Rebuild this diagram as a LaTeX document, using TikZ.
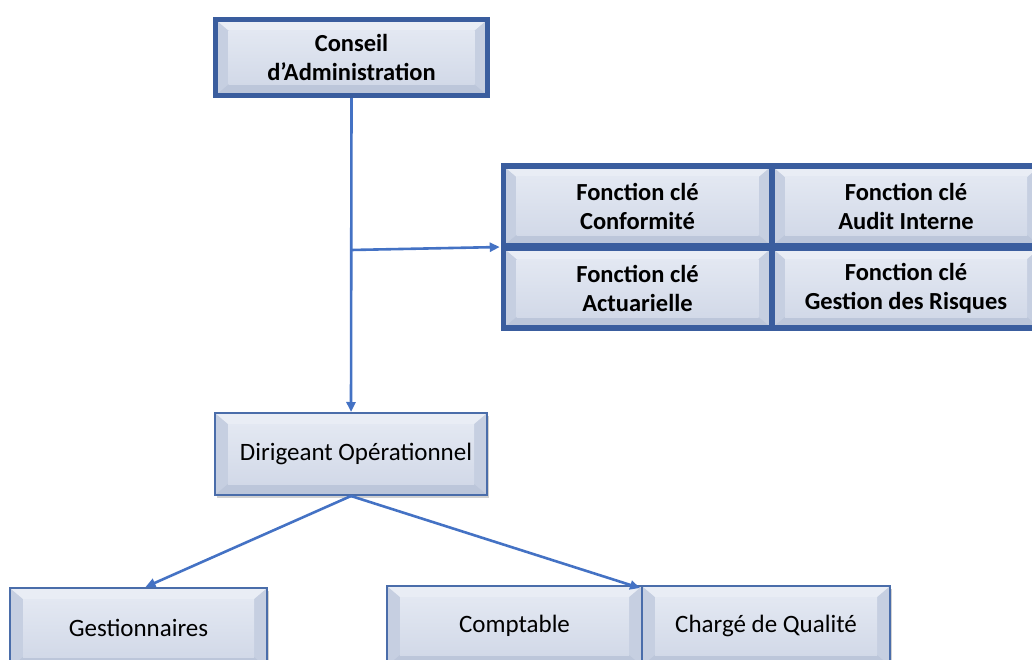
\documentclass[tikz,border=0pt]{standalone}
\usepackage{fontspec}
\setmainfont{Carlito}
\usetikzlibrary{arrows.meta,shadows,calc}
\definecolor{bord}{HTML}{4A6DAA}
\definecolor{thickbord}{HTML}{3A5D9E}
\definecolor{bvtop}{HTML}{E9EDF5}
\definecolor{bvside}{HTML}{C6CFE1}
\definecolor{bvbot}{HTML}{BCC6DA}
\definecolor{facetop}{HTML}{E3E8F2}
\definecolor{facebot}{HTML}{D2D9E8}
\definecolor{arrc}{HTML}{4472C4}
\tikzset{
  basebox/.style={fill=bvside, align=center, inner sep=0pt,
    font=\fontsize{25}{29}\selectfont,
    drop shadow={shadow xshift=2pt, shadow yshift=-3pt, opacity=0.3, fill=black!60},
    path picture={
      \coordinate (pnw) at (path picture bounding box.north west);
      \coordinate (pne) at (path picture bounding box.north east);
      \coordinate (psw) at (path picture bounding box.south west);
      \coordinate (pse) at (path picture bounding box.south east);
      \coordinate (inw) at ([shift={(13pt,-11pt)}]pnw);
      \coordinate (ine) at ([shift={(-13pt,-11pt)}]pne);
      \coordinate (isw) at ([shift={(13pt,11pt)}]psw);
      \coordinate (ise) at ([shift={(-13pt,11pt)}]pse);
      \fill[bvtop] (pnw) -- (pne) -- (ine) -- (inw) -- cycle;
      \fill[bvbot] (psw) -- (pse) -- (ise) -- (isw) -- cycle;
      \shade[top color=facetop, bottom color=facebot] (inw) rectangle (ise);
    }},
  thinbox/.style={basebox, draw=bord, line width=2pt},
  thickbox/.style={basebox, draw=thickbord, line width=5.5pt, font=\fontsize{24.5}{29}\selectfont\bfseries},
  arr/.style={draw=arrc, line width=2.6pt, -{Triangle[length=10pt,width=9pt]}}
}
\begin{document}
\begin{tikzpicture}[x=1pt,y=-1pt]
\useasboundingbox (0,0) rectangle (1032,660);
\node[thickbox, minimum width=272pt, minimum height=76pt] (ca) at (351.5,57.5) {Conseil\\d’Administration};
\node[thickbox, minimum width=268pt, minimum height=80pt] (f1) at (637.5,206) {Fonction clé\\Conformité};
\node[thickbox, minimum width=268pt, minimum height=80pt] (f2) at (906,206) {Fonction clé\\Audit Interne};
\node[thickbox, minimum width=268pt, minimum height=80pt] (f3) at (637.5,288) {Fonction clé\\Actuarielle};
\node[thickbox, minimum width=268pt, minimum height=80pt] (f4) at (906,288) {Fonction clé\\Gestion des Risques};
\node[thinbox, minimum width=272pt, minimum height=82pt] (dir) at (351,454) {\hspace*{10pt}Dirigeant Opérationnel};
\node[thinbox, minimum width=257pt, minimum height=80pt] (gest) at (138.5,628) {Gestionnaires};
\node[thinbox, minimum width=255pt, minimum height=80pt] (compt) at (514.5,626) {Comptable};
\node[thinbox, minimum width=248pt, minimum height=80pt] (charg) at (766,626) {Chargé de Qualité};
\coordinate (br) at (351,250);
\draw[arr] (ca.south) -- (dir.north);
\draw[arr, shorten >=1pt] (br) -- ($(f1.south west)!0.5!(f3.north west)$);
\draw[arr] (dir.south) -- ([xshift=7pt]gest.north);
\draw[arr] (dir.south) -- ([xshift=-3pt,yshift=-3pt]compt.north east);
\end{tikzpicture}
\end{document}
